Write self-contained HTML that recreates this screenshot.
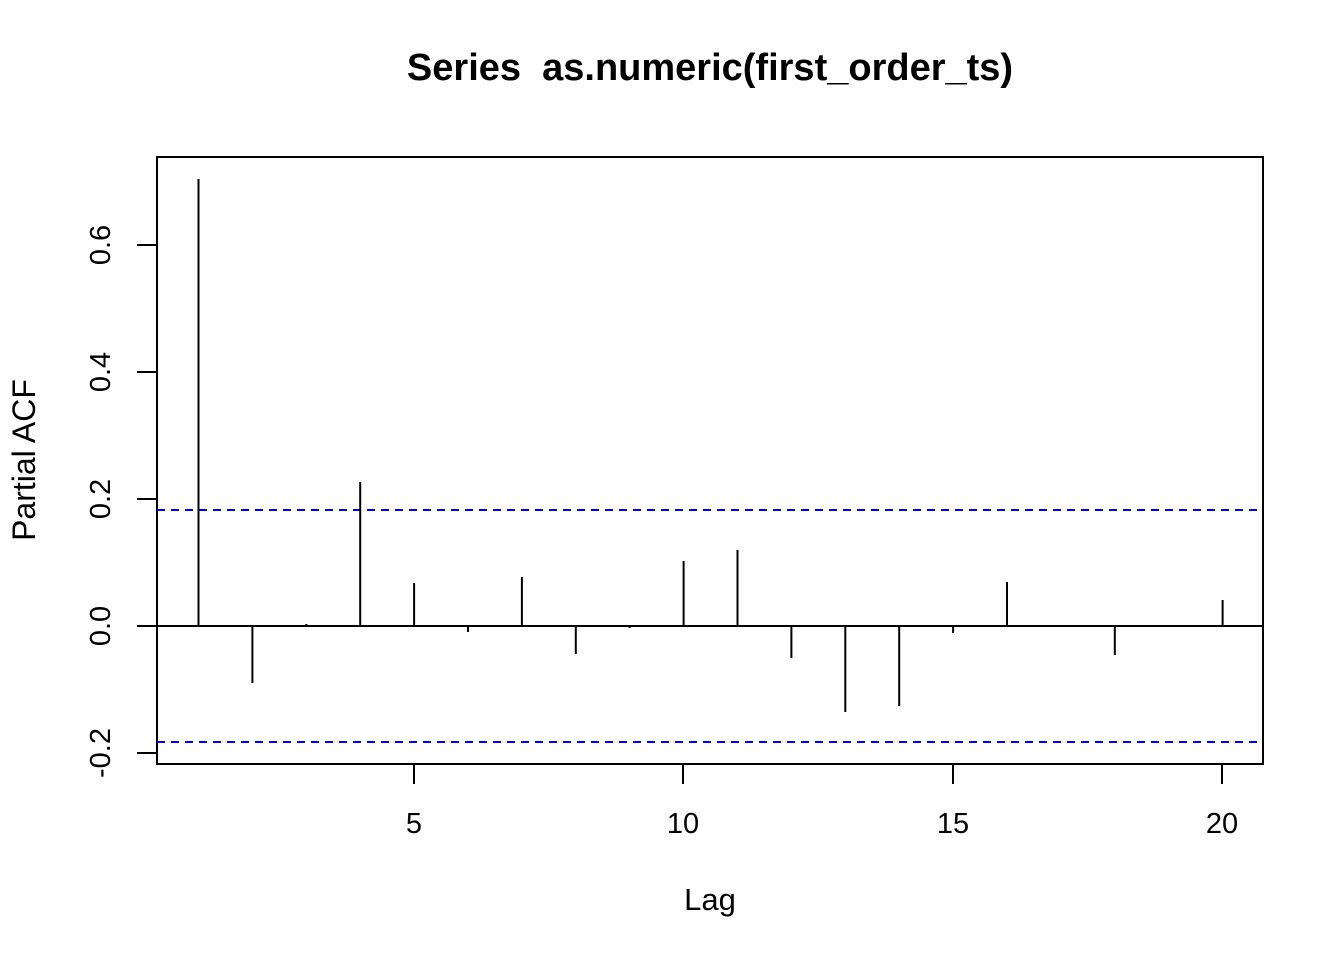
<!DOCTYPE html>
<html><head><meta charset="utf-8"><style>html,body{margin:0;padding:0;background:#fff}</style></head>
<body>
<svg width="1344" height="960" xmlns="http://www.w3.org/2000/svg" font-family="Liberation Sans, sans-serif">
<rect width="1344" height="960" fill="#fff"/>
<text x="710" y="80" text-anchor="middle" font-size="38" font-weight="bold">Series&#160; as.numeric(first_order_ts)</text>
<rect x="157" y="157" width="1106" height="607" fill="none" stroke="#000" stroke-width="2"/>
<g stroke="#000" stroke-width="2">
<line x1="414" y1="764" x2="1222" y2="764"/>
<line x1="414" y1="764" x2="414" y2="784"/>
<line x1="683" y1="764" x2="683" y2="784"/>
<line x1="953" y1="764" x2="953" y2="784"/>
<line x1="1222" y1="764" x2="1222" y2="784"/>
<line x1="157" y1="245" x2="137" y2="245"/>
<line x1="157" y1="372" x2="137" y2="372"/>
<line x1="157" y1="499" x2="137" y2="499"/>
<line x1="157" y1="626" x2="137" y2="626"/>
<line x1="157" y1="753" x2="137" y2="753"/>
</g>
<g font-size="29" text-anchor="middle">
<text x="414" y="833">5</text>
<text x="683" y="833">10</text>
<text x="953" y="833">15</text>
<text x="1222" y="833">20</text>
<text x="710" y="910" font-size="31">Lag</text>
<text transform="translate(110,245) rotate(-90)">0.6</text>
<text transform="translate(110,372) rotate(-90)">0.4</text>
<text transform="translate(110,499) rotate(-90)">0.2</text>
<text transform="translate(110,626) rotate(-90)">0.0</text>
<text transform="translate(110,753) rotate(-90)">-0.2</text>
<text transform="translate(35,460) rotate(-90)" font-size="32">Partial ACF</text>
</g>
<line x1="157" y1="626" x2="1263" y2="626" stroke="#000" stroke-width="2"/>
<g stroke="#0000ee" stroke-width="2" stroke-dasharray="8,6">
<line x1="157" y1="510" x2="1263" y2="510"/>
<line x1="157" y1="742" x2="1263" y2="742"/>
</g>
<g stroke="#000" stroke-width="2">
<line x1="198.5" y1="626" x2="198.5" y2="179"/>
<line x1="252.4" y1="626" x2="252.4" y2="683"/>
<line x1="306.3" y1="626" x2="306.3" y2="624"/>
<line x1="360.2" y1="626" x2="360.2" y2="482"/>
<line x1="414.1" y1="626" x2="414.1" y2="583"/>
<line x1="468" y1="626" x2="468" y2="632"/>
<line x1="521.9" y1="626" x2="521.9" y2="577"/>
<line x1="575.8" y1="626" x2="575.8" y2="654"/>
<line x1="629.7" y1="626" x2="629.7" y2="628"/>
<line x1="683.6" y1="626" x2="683.6" y2="561"/>
<line x1="737.5" y1="626" x2="737.5" y2="550"/>
<line x1="791.4" y1="626" x2="791.4" y2="658"/>
<line x1="845.3" y1="626" x2="845.3" y2="712"/>
<line x1="899.2" y1="626" x2="899.2" y2="706"/>
<line x1="953.1" y1="626" x2="953.1" y2="633"/>
<line x1="1007" y1="626" x2="1007" y2="582"/>
<line x1="1060.9" y1="626" x2="1060.9" y2="627"/>
<line x1="1114.8" y1="626" x2="1114.8" y2="655"/>
<line x1="1168.7" y1="626" x2="1168.7" y2="627"/>
<line x1="1222.6" y1="626" x2="1222.6" y2="600"/>
</g>
</svg>
</body></html>
